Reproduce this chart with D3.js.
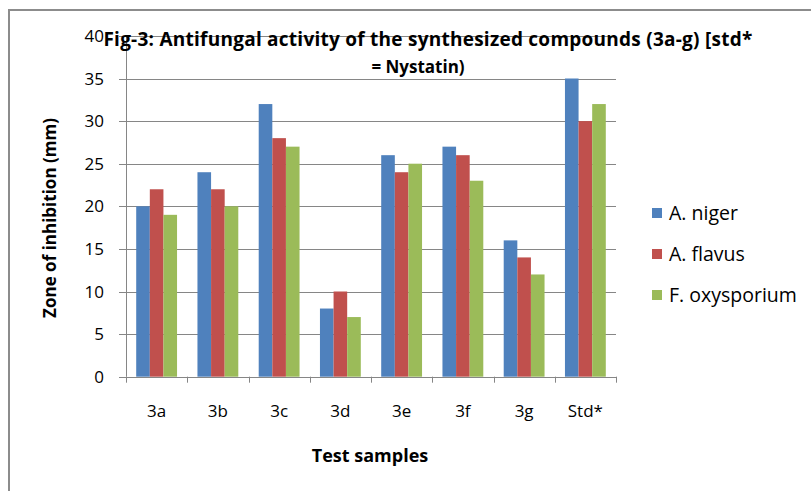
<!DOCTYPE html>
<html>
<head>
<meta charset="utf-8">
<script src="https://cdn.jsdelivr.net/npm/d3@7"></script>
<style>
  body { margin: 0; background: #fff; }
  text { font-family: "Open Sans", sans-serif; fill: #000; }
</style>
</head>
<body>
<div id="holder"></div>
<script>
// chart data
var categories = ['3a', '3b', '3c', '3d', '3e', '3f', '3g', 'Std*'];
var seriesNames = ['A. niger', 'A. flavus', 'F. oxysporium'];
var aNiger = [20, 24, 32, 8, 26, 27, 16, 35];
var aFlavus = [22, 22, 28, 10, 24, 26, 14, 30];
var fOxysporium = [19, 20, 27, 7, 25, 23, 12, 32];
var yTicks = [0, 5, 10, 15, 20, 25, 30, 35, 40];
var colors = ['#4F81BD', '#C0504D', '#9BBB59'];

var values = [aNiger, aFlavus, fOxysporium];
var width = 811, height = 491;

var svg = d3.select('#holder').append('svg')
  .attr('width', width).attr('height', height);

// outer frame (only top + left visible)
svg.append('path')
  .attr('d', 'M9,' + height + 'V10H' + width)
  .attr('fill', 'none').attr('stroke', '#8c8c8c').attr('stroke-width', 2);

var x = d3.scaleBand().domain(categories).range([126, 616]);
var xSub = d3.scaleBand().domain(seriesNames).range([0, x.bandwidth()]).paddingOuter(0.75);
var y = d3.scaleLinear().domain([0, 40]).range([376.7, 35.9]);

// gridlines
svg.append('g').selectAll('line').data(yTicks).enter().append('line')
  .attr('x1', 119).attr('x2', 616)
  .attr('y1', function(d) { return Math.round(y(d)) + 0.5; })
  .attr('y2', function(d) { return Math.round(y(d)) + 0.5; })
  .attr('stroke', '#868686').attr('stroke-width', 1);

// y tick labels
svg.append('g').selectAll('text').data(yTicks).enter().append('text')
  .attr('x', 104).attr('y', function(d) { return y(d); })
  .attr('dy', '0.36em').attr('text-anchor', 'end')
  .style('font-size', '17px')
  .text(function(d) { return d; });

// bars
var groups = svg.append('g').selectAll('g').data(categories).enter().append('g')
  .attr('transform', function(d) { return 'translate(' + x(d) + ',0)'; });

groups.selectAll('rect').data(function(d, i) {
    return seriesNames.map(function(s, j) { return { s: s, v: values[j][i], c: colors[j] }; });
  }).enter().append('rect')
  .attr('x', function(d) { return xSub(d.s); })
  .attr('width', xSub.bandwidth())
  .attr('y', function(d) { return y(d.v); })
  .attr('height', function(d) { return y(0) - y(d.v); })
  .style('fill', function(d) { return d.c; });

// axes lines
svg.append('line').attr('x1', 126.5).attr('x2', 126.5).attr('y1', y(40)).attr('y2', y(0))
  .attr('stroke', '#868686');
var xTickPos = categories.map(function(c) { return x(c); }).concat([x.range()[1]]);
svg.append('g').selectAll('line').data(xTickPos).enter().append('line')
  .attr('x1', function(d) { return Math.round(d) + 0.5; })
  .attr('x2', function(d) { return Math.round(d) + 0.5; })
  .attr('y1', y(0)).attr('y2', y(0) + 6)
  .attr('stroke', '#868686');

// x tick labels
svg.append('g').selectAll('text').data(categories).enter().append('text')
  .attr('x', function(d) { return x(d) + x.bandwidth() / 2; })
  .attr('y', 417).attr('text-anchor', 'middle')
  .style('font-size', '17px')
  .text(function(d) { return d; });

// axis titles
svg.append('text').attr('x', 370).attr('y', 462).attr('text-anchor', 'middle')
  .style('font-size', '18px').style('font-weight', 'bold')
  .text('Test samples');
svg.append('text').attr('transform', 'translate(56,218) rotate(-90)')
  .attr('text-anchor', 'middle')
  .style('font-size', '17px').style('font-weight', 'bold')
  .text('Zone of inhibition (mm)');

// title
svg.append('text').attr('x', 428).attr('y', 46).attr('text-anchor', 'middle')
  .style('font-size', '19px').style('font-weight', 'bold').style('letter-spacing', '0.25px')
  .text('Fig-3: Antifungal activity of the synthesized compounds (3a-g) [std*');
svg.append('text').attr('x', 418).attr('y', 73).attr('text-anchor', 'middle')
  .style('font-size', '17px').style('font-weight', 'bold')
  .text('= Nystatin)');

// legend
var legend = svg.append('g').selectAll('g').data(seriesNames).enter().append('g')
  .attr('transform', function(d, i) { return 'translate(652,' + (213 + i * 41) + ')'; });
legend.append('rect').attr('x', 0).attr('y', -5).attr('width', 10).attr('height', 10)
  .style('fill', function(d, i) { return colors[i]; });
legend.append('text').attr('x', 17).attr('dy', '0.36em')
  .style('font-size', '19.5px')
  .text(function(d) { return d; });
</script>
</body>
</html>
